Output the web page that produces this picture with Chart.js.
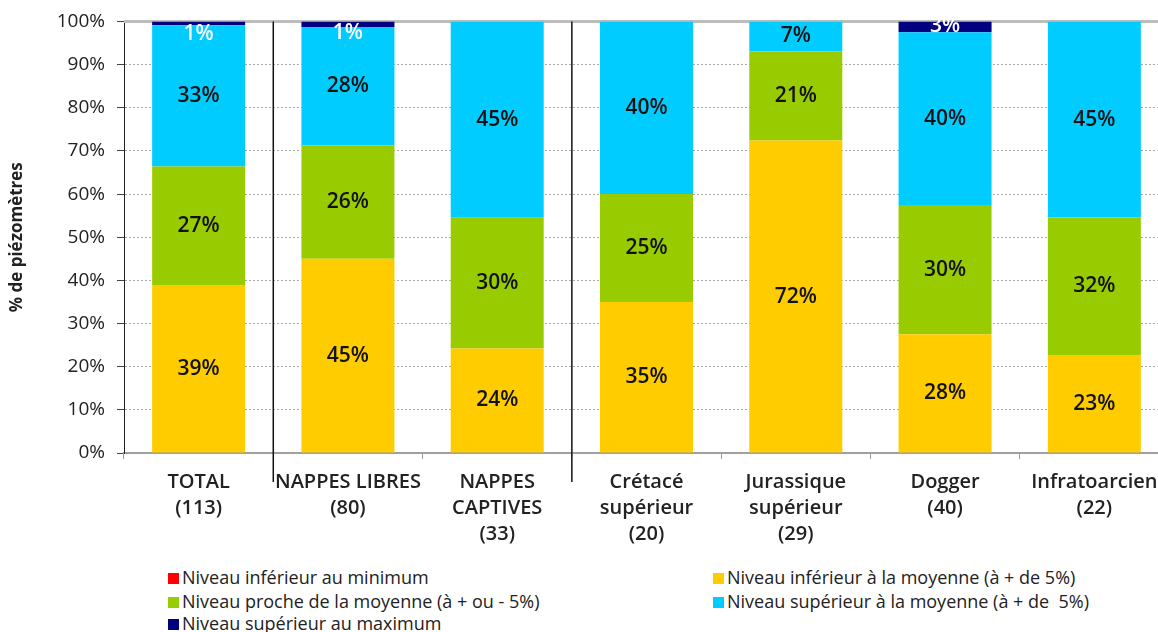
<!DOCTYPE html>
<html>
<head>
<meta charset="utf-8">
<script src="https://cdn.jsdelivr.net/npm/chart.js@4.4.0/dist/chart.umd.min.js"></script>
<style>
body { margin: 0; background: #fff; overflow: hidden; width: 1158px; height: 632px; position: relative; font-family: "Open Sans", sans-serif; color: #222; }
#box { position: absolute; left: 0; top: 0; width: 1175px; height: 560px; }
#legend { position: absolute; left: 0; top: 0; }
.item { position: absolute; font-size: 18px; line-height: 22px; white-space: pre; }
.item span { display: inline-block; width: 11px; height: 11px; margin-right: 3px; vertical-align: 0px; }
</style>
</head>
<body>
<div id="box"><canvas id="myChart"></canvas></div>
<div id="legend"></div>
<script>
var categories = [
	['TOTAL', '(113)'],
	['NAPPES LIBRES', '(80)'],
	['NAPPES', 'CAPTIVES', '(33)'],
	['Crétacé', 'supérieur', '(20)'],
	['Jurassique', 'supérieur', '(29)'],
	['Dogger', '(40)'],
	['Infratoarcien', '(22)']
];
var yTicks = [0, 10, 20, 30, 40, 50, 60, 70, 80, 90, 100];

// percentages of piezometers per class
var sousMinimum = [0, 0, 0, 0, 0, 0, 0];
var sousMoyenne = [38.94, 45, 24.24, 35, 72.41, 27.5, 22.73];
var procheMoyenne = [27.43, 26.25, 30.3, 25, 20.69, 30, 31.82];
var surMoyenne = [32.74, 27.5, 45.45, 40, 6.9, 40, 45.45];
var surMaximum = [0.88, 1.25, 0, 0, 0, 2.5, 0];

var seriesNames = [
	'Niveau inférieur au minimum',
	'Niveau inférieur à la moyenne (à + de 5%)',
	'Niveau proche de la moyenne (à + ou - 5%)',
	'Niveau supérieur à la moyenne (à + de  5%)',
	'Niveau supérieur au maximum'
];
var seriesColors = ['#ff0000', '#ffcc00', '#99cc00', '#00ccff', '#000080'];
var seriesData = [sousMinimum, sousMoyenne, procheMoyenne, surMoyenne, surMaximum];

var datasets = seriesNames.map(function (name, i) {
	return {
		label: name,
		data: seriesData[i],
		backgroundColor: seriesColors[i],
		borderWidth: 0,
		barPercentage: 0.623,
		categoryPercentage: 1
	};
});

// separators, top line and value labels
var extras = {
	id: 'extras',
	beforeDatasetsDraw: function (chart) {
		var ctx = chart.ctx, a = chart.chartArea;
		ctx.save();
		ctx.strokeStyle = '#bdbdbd';
		ctx.lineWidth = 3;
		ctx.beginPath();
		ctx.moveTo(a.left, a.top);
		ctx.lineTo(a.right, a.top);
		ctx.stroke();
		ctx.restore();
	},
	afterDatasetsDraw: function (chart) {
		var ctx = chart.ctx, a = chart.chartArea, x = chart.scales.x;
		ctx.save();
		ctx.strokeStyle = '#111';
		ctx.lineWidth = 1.5;
		[0, 2].forEach(function (i) {
			var px = (x.getPixelForValue(i) + x.getPixelForValue(i + 1)) / 2;
			ctx.beginPath();
			ctx.moveTo(px, a.top);
			ctx.lineTo(px, 482);
			ctx.stroke();
		});
		ctx.font = '600 21px "Open Sans"';
		ctx.textAlign = 'center';
		ctx.textBaseline = 'middle';
		chart.data.datasets.forEach(function (ds, d) {
			chart.getDatasetMeta(d).data.forEach(function (el, j) {
				var v = ds.data[j];
				if (!v) return;
				var h = el.base - el.y;
				var y = (el.y + el.base) / 2;
				if (h < 8) y = el.y + 12;
				else if (d === 4) y -= 1;
				ctx.fillStyle = d === 4 ? '#fff' : '#111';
				ctx.fillText(Math.round(v) + '%', el.x, y);
			});
		});
		ctx.restore();
	}
};

var ctx = document.getElementById('myChart').getContext('2d');
var chart = new Chart(ctx, {
	type: 'bar',
	data: { labels: categories, datasets: datasets },
	plugins: [extras],
	options: {
		responsive: true,
		maintainAspectRatio: false,
		animation: false,
		layout: { padding: { top: 20, right: 6, left: 0, bottom: 0 } },
		plugins: { legend: { display: false }, tooltip: { enabled: false } },
		scales: {
			x: {
				stacked: true,
				afterFit: function (s) { s.height = 107; },
				grid: { drawOnChartArea: false, tickLength: 6, tickColor: '#999' },
				border: { color: '#a0a0a0', width: 2 },
				ticks: {
					autoSkip: false, maxRotation: 0, padding: 10, color: '#222',
					font: { family: 'Open Sans', size: 20, weight: '600', lineHeight: 1.3 }
				}
			},
			y: {
				stacked: true,
				min: 0, max: 100,
				afterFit: function (s) { s.width = 124; },
				afterBuildTicks: function (s) { s.ticks = yTicks.map(function (v) { return { value: v }; }); },
				grid: {
					color: function (c) { return (c.tick && (c.tick.value === 0 || c.tick.value === 100)) ? 'rgba(0,0,0,0)' : '#a8a8a8'; },
					tickColor: '#444', tickLength: 7, lineWidth: 1
				},
				border: { color: '#222', width: 1, dash: [2, 2] },
				ticks: {
					padding: 12, color: '#222',
					font: { family: 'Open Sans', size: 19, lineHeight: 1 },
					callback: function (v) { return v + '%'; }
				},
				title: {
					display: true, text: '% de piézomètres', color: '#222',
					padding: { top: 7, bottom: 0 },
					font: { family: 'Open Sans', size: 17, weight: 'bold' }
				}
			}
		}
	}
});

// legend in two columns
var legendPos = [[168, 566], [713, 566], [168, 590], [713, 590], [168, 612]];
var leg = document.getElementById('legend');
seriesNames.forEach(function (name, i) {
	var div = document.createElement('div');
	div.className = 'item';
	div.style.left = legendPos[i][0] + 'px';
	div.style.top = legendPos[i][1] + 'px';
	div.innerHTML = '<span style="background:' + seriesColors[i] + '"></span>' + name;
	leg.appendChild(div);
});
</script>
</body>
</html>
